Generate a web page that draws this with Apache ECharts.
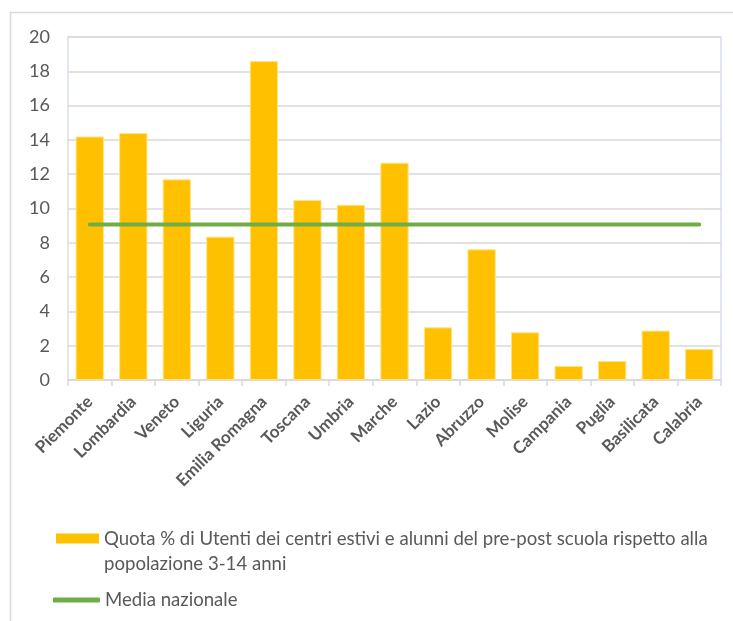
<!DOCTYPE html>
<html><head><meta charset="utf-8">
<script src="https://cdn.jsdelivr.net/npm/echarts@6/dist/echarts.min.js"></script>
<style>html,body{margin:0;padding:0;background:#fff}#c{width:733px;height:621px}</style>
</head><body><div id="c"></div>
<script>
var categories = ['Piemonte','Lombardia','Veneto','Liguria','Emilia Romagna','Toscana','Umbria','Marche','Lazio','Abruzzo','Molise','Campania','Puglia','Basilicata','Calabria'];
var quotaValues = [14.2, 14.4, 11.7, 8.36, 18.6, 10.5, 10.22, 12.67, 3.07, 7.62, 2.78, 0.82, 1.11, 2.88, 1.81];
var mediaNazionale = [9.06, 9.06, 9.06, 9.06, 9.06, 9.06, 9.06, 9.06, 9.06, 9.06, 9.06, 9.06, 9.06, 9.06, 9.06];
var yTicks = [0, 2, 4, 6, 8, 10, 12, 14, 16, 18, 20];
var barName = 'Quota % di Utenti dei centri estivi e alunni del pre-post scuola rispetto alla popolazione 3-14 anni';
var lineName = 'Media nazionale';

var font = 'Lato';
var chart = echarts.init(document.getElementById('c'), null, {renderer: 'canvas'});
chart.setOption({
  animation: false,
  backgroundColor: '#fff',
  textStyle: {fontFamily: font},
  graphic: [
    {type: 'rect', shape: {x: 10.5, y: 12.5, width: 760, height: 700}, style: {fill: 'none', stroke: '#d9d9d9', lineWidth: 1.5}, silent: true, z: -1},
    {type: 'rect', shape: {x: 68, y: 37, width: 653, height: 343}, style: {fill: 'none', stroke: '#d6dff0', lineWidth: 1.5}, silent: true, z: 0}
  ],
  grid: {left: 68, top: 37, width: 653, height: 343, containLabel: false},
  legend: [
    {data: [{name: barName, icon: 'rect', itemStyle: {color: '#ffc000', borderWidth: 0}}], left: 51, top: 496, orient: 'vertical', itemWidth: 43, itemHeight: 10, itemGap: 0,
     formatter: function (n) { return '\u00a0\n' + n; },
     textStyle: {fontFamily: font, fontSize: 18.6, color: '#595959', width: 620, overflow: 'break', lineHeight: 25}},
    {data: [{name: lineName, icon: 'roundRect', itemStyle: {color: '#70ad47'}}], left: 48, top: 582.5, itemWidth: 47, itemHeight: 5, itemGap: 0,
     textStyle: {fontFamily: font, fontSize: 18.6, color: '#595959', lineHeight: 25}}
  ],
  xAxis: {
    type: 'category', data: categories, boundaryGap: true,
    axisLine: {show: true, lineStyle: {color: '#d9d9d9', width: 1.5}},
    axisTick: {show: true, length: 6, lineStyle: {color: '#d9d9d9', width: 1.5}},
    axisLabel: {rotate: 45, interval: 0, color: '#595959', fontSize: 17, fontWeight: 'bold', fontFamily: font, margin: 19}
  },
  yAxis: {
    type: 'value', min: yTicks[0], max: yTicks[yTicks.length-1], interval: 2,
    axisLine: {show: false}, axisTick: {show: false},
    axisLabel: {color: '#595959', fontSize: 18, fontFamily: font, margin: 18},
    splitLine: {lineStyle: {color: '#d9d9d9', width: 1.5}}
  },
  series: [
    {name: barName, type: 'bar', data: quotaValues, barCategoryGap: '35%',
     itemStyle: {color: '#ffc000', borderColor: '#ffe38a', borderWidth: 1}, z: 2},
    {name: lineName, type: 'line', data: mediaNazionale, symbol: 'none', z: 3,
     lineStyle: {color: '#70ad47', width: 4, cap: 'round'}, itemStyle: {color: '#70ad47'}}
  ]
});
</script></body></html>
